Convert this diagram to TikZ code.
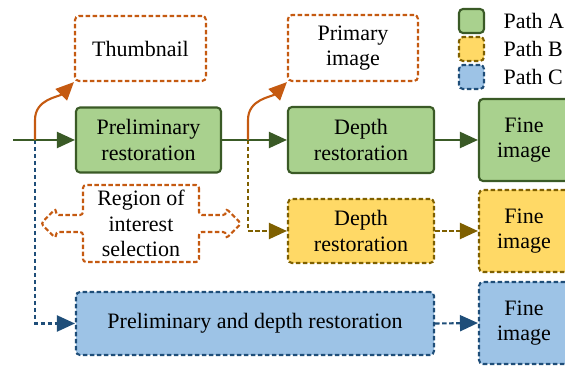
\documentclass[tikz,border=0pt]{standalone}
\usepackage{fontspec}
\setmainfont{Liberation Serif}
\usetikzlibrary{arrows.meta, shapes.arrows}

\definecolor{greenfill}{HTML}{A9D18E}
\definecolor{greenline}{HTML}{3A5A26}
\definecolor{yellowfill}{HTML}{FFD966}
\definecolor{yellowline}{HTML}{7F6000}
\definecolor{bluefill}{HTML}{9DC3E6}
\definecolor{blueline}{HTML}{1F4E79}
\definecolor{orangeline}{HTML}{C55A11}

\begin{document}
\begin{tikzpicture}[x=1pt,y=1pt,
    font=\fontsize{22}{25.5}\selectfont,
    box/.style={rounded corners=4pt, line width=2.1pt, align=center, inner sep=0pt},
    boxA/.style={box, draw=greenline, fill=greenfill},
    boxB/.style={box, draw=yellowline, fill=yellowfill, dash pattern=on 4.5pt off 2.5pt},
    boxC/.style={box, draw=blueline, fill=bluefill, dash pattern=on 4.5pt off 2.5pt},
    boxO/.style={box, draw=orangeline, fill=white, dash pattern=on 4.5pt off 2.5pt},
    tip/.style={-{Triangle[length=18pt,width=16pt]}},
    lineA/.style={tip, line width=2.1pt, greenline},
    lineB/.style={tip, line width=2.1pt, yellowline, dash pattern=on 4.5pt off 2.5pt},
    lineC/.style={tip, line width=2.1pt, blueline, dash pattern=on 4.5pt off 2.5pt},
    lineO/.style={tip, line width=2.1pt, orangeline}]
\clip (0,0) rectangle (565,366);

% legend
\node[boxA, minimum width=25pt, minimum height=24pt] (legA) at (471.5,345) {};
\node[boxB, minimum width=25pt, minimum height=24pt] (legB) at (471.5,317) {};
\node[boxC, minimum width=25pt, minimum height=24pt] (legC) at (471.5,289) {};
\node[anchor=west] (txtA) at (500,345) {Path A};
\node[anchor=west] (txtB) at (500,317) {Path B};
\node[anchor=west] (txtC) at (500,289) {Path C};

% side outputs
\node[boxO, minimum width=131pt, minimum height=65pt] (thumb) at (140.5,317.5) {Thumbnail};
\node[boxO, minimum width=130pt, minimum height=66pt] (primary) at (353,318) {Primary\\image};
\node[draw=orangeline, fill=white, line width=2.1pt, dash pattern=on 4.5pt off 2.5pt,
      rounded corners=3pt, align=center, inner sep=0pt,
      shape=arrow box, minimum width=116pt, minimum height=77pt,
      arrow box arrows={east:41pt from border, west:41pt from border},
      arrow box shaft width=17pt, arrow box head extend=6.5pt, arrow box head indent=0pt]
      (roi) at (141,142.5) {Region of\\interest\\selection};

% path A
\node[boxA, minimum width=145pt, minimum height=65pt] (prelim) at (148.5,226) {Preliminary\\restoration};
\node[boxA, minimum width=146pt, minimum height=66pt] (depthA) at (361,226) {Depth\\restoration};
\node[boxA, minimum width=90pt, minimum height=82pt] (fineA) at (524,226) {Fine\\image};

% path B
\node[boxB, minimum width=146pt, minimum height=64pt] (depthB) at (361,135) {Depth\\restoration};
\node[boxB, minimum width=90pt, minimum height=82pt] (fineB) at (524,135) {Fine\\image};

% path C
\node[boxC, minimum width=358pt, minimum height=63pt] (prelimC) at (255,42.5) {Preliminary and depth restoration};
\node[boxC, minimum width=90pt, minimum height=82pt] (fineC) at (524,43) {Fine\\image};

\coordinate (input) at (13,226);
\coordinate (split1) at (35,226);
\coordinate (split2) at (248,226);

% connectors
\draw[lineC] (split1) |- (prelimC.west);
\draw[lineB] (split2) |- (depthB.west);
\draw[lineA] (input) -- (prelim.west);
\draw[lineA] (prelim.east) -- (depthA.west);
\draw[lineA] (depthA.east) -- (fineA.west);
\draw[lineB] (depthB.east) -- (fineB.west);
\draw[lineC] (prelimC.east) -- (fineC.west);
\draw[lineO] (split1) -- ++(0,20) to[out=90,in=225] (thumb.south west);
\draw[lineO] (split2) -- ++(0,20) to[out=90,in=225] (primary.south west);
\end{tikzpicture}
\end{document}
